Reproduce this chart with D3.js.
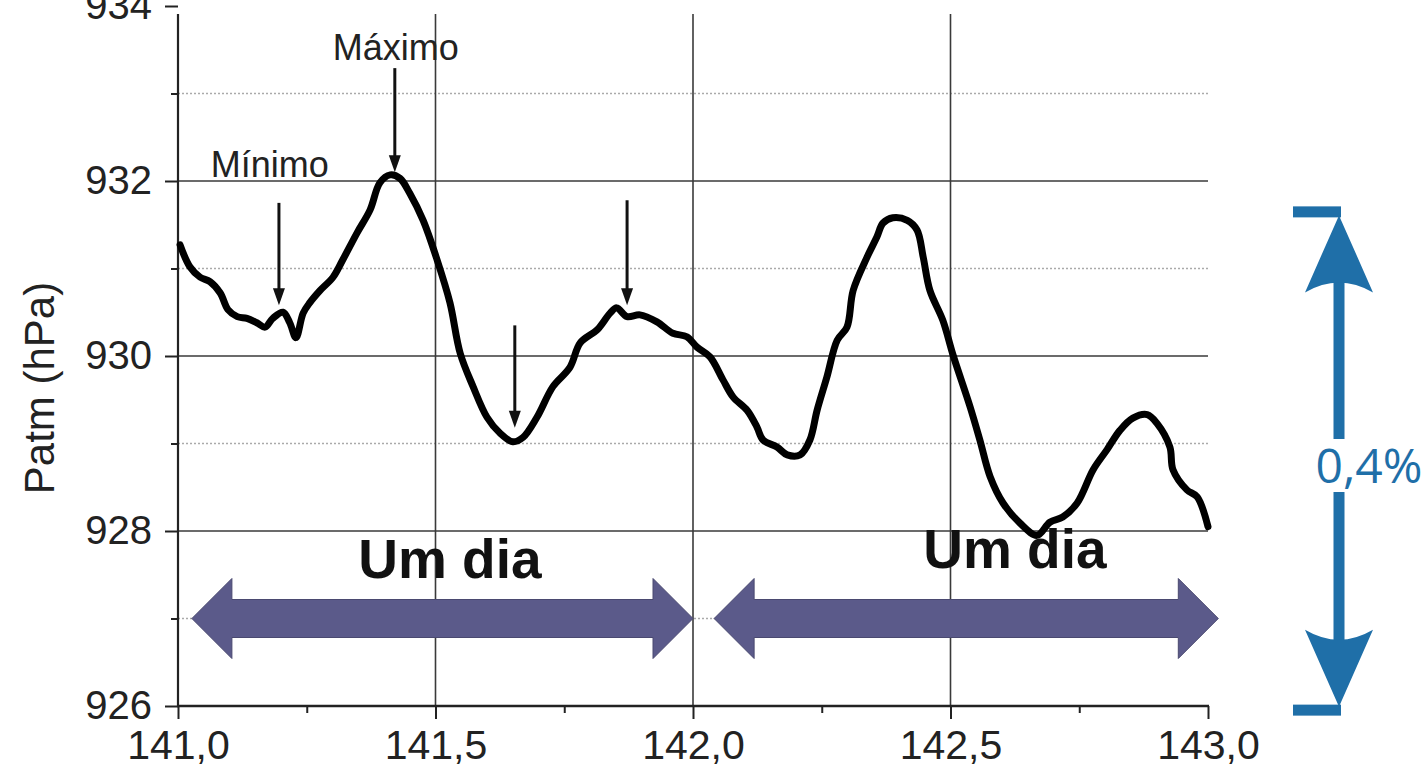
<!DOCTYPE html>
<html>
<head>
<meta charset="utf-8">
<script src="https://cdn.jsdelivr.net/npm/d3@7"></script>
<style>
  html, body { margin: 0; padding: 0; background: #fff; }
  svg { display: block; }
</style>
</head>
<body>
<svg id="chart" width="1425" height="767"></svg>
<script>
// ---- data ----
const timeDays = [141.004,141.023,141.043,141.062,141.082,141.097,141.115,141.134,141.153,141.169,141.184,141.204,141.217,141.229,141.243,141.256,141.276,141.301,141.320,141.348,141.373,141.392,141.412,141.431,141.450,141.476,141.503,141.528,141.548,141.573,141.600,141.625,141.650,141.670,141.697,141.728,141.761,141.781,141.814,141.839,141.852,141.872,141.897,141.930,141.961,141.988,142.008,142.033,142.058,142.078,142.105,142.124,142.136,142.163,142.183,142.208,142.227,142.241,142.260,142.280,142.299,142.311,142.338,142.357,142.369,142.388,142.416,142.435,142.447,142.460,142.485,142.505,142.538,142.557,142.577,142.602,142.635,142.668,142.693,142.718,142.746,142.777,142.804,142.829,142.854,142.882,142.901,142.926,142.932,142.959,142.979,143.000];
const patm = [931.27,931.02,930.90,930.85,930.72,930.53,930.45,930.43,930.38,930.33,930.43,930.50,930.38,930.21,930.49,930.61,930.75,930.90,931.10,931.41,931.67,931.98,932.07,932.03,931.86,931.55,931.10,930.61,930.03,929.65,929.30,929.12,929.02,929.07,929.30,929.65,929.87,930.15,930.30,930.49,930.55,930.45,930.47,930.39,930.26,930.22,930.10,929.99,929.73,929.53,929.38,929.19,929.04,928.96,928.87,928.87,929.04,929.38,929.76,930.18,930.33,930.75,931.13,931.36,931.52,931.58,931.55,931.44,931.13,930.75,930.41,930.01,929.42,929.04,928.62,928.32,928.09,927.95,928.10,928.16,928.32,928.70,928.93,929.15,929.29,929.33,929.23,928.96,928.70,928.47,928.39,928.05];

const yTicks = [926, 928, 930, 932, 934];
const yMinorTicks = [927, 929, 931, 933];
const xTicks = [141.0, 141.5, 142.0, 142.5, 143.0];
const xMinorTicks = [141.25, 141.75, 142.25, 142.75];
const xGridTicks = [141.5, 142.0, 142.5];

// annotation arrows (x, top value, bottom value)
const noteArrowX = [141.196, 141.421, 141.654, 141.872];
const noteArrowTop = [931.75, 933.29, 930.35, 931.78];
const noteArrowBottom = [930.58, 932.10, 929.18, 930.58];
const noteLabels = ["Mínimo", "Máximo"];
const noteLabelX = [141.178, 141.423];
const noteLabelY = [932.05, 933.38];

// "Um dia" spans
const dayStart = [141.027, 142.041];
const dayEnd = [142.0, 143.02];
const dayLevel = 927.0;
const dayLabelX = [141.528, 142.625];
const dayLabelY = [927.46, 927.58];

// amplitude bracket
const ampTop = 931.71;
const ampBottom = 925.89;
const ampLabel = "0,4%";

// ---- drawing ----
const svg = d3.select("#chart");
const x = d3.scaleLinear().domain([141, 143]).range([178, 1208]);
const y = d3.scaleLinear().domain([926, 934]).range([706, 6]);
const plotTop = 14;
const font = "'Liberation Sans', Arial, sans-serif";
const fmt = d => d3.format(".1f")(d).replace(".", ",");

const grid = svg.append("g");
grid.selectAll("line.hmin").data(yMinorTicks).join("line")
  .attr("x1", x(141)).attr("x2", x(143))
  .attr("y1", d => y(d)).attr("y2", d => y(d))
  .attr("stroke", "#aaaaaa").attr("stroke-width", 1.5).attr("stroke-dasharray", "2,2");
grid.selectAll("line.hmaj").data(yTicks.filter(d => d > 926 && d < 934)).join("line")
  .attr("x1", x(141)).attr("x2", x(143))
  .attr("y1", d => y(d)).attr("y2", d => y(d))
  .attr("stroke", "#3a3a3a").attr("stroke-width", 1.6);
grid.selectAll("line.v").data(xGridTicks).join("line")
  .attr("x1", d => x(d)).attr("x2", d => x(d))
  .attr("y1", plotTop).attr("y2", y(926))
  .attr("stroke", "#3a3a3a").attr("stroke-width", 1.6);

// left axis
const yAxis = d3.axisLeft(y).tickValues(yTicks).tickSize(13).tickPadding(13).tickFormat(d3.format("d"));
const gy = svg.append("g").attr("transform", `translate(${x(141)},0)`).call(yAxis);
gy.select(".domain").remove();
gy.selectAll(".tick line").attr("stroke", "#222").attr("stroke-width", 2);
gy.selectAll(".tick text").attr("font-family", font).attr("font-size", 40).attr("fill", "#222");
svg.append("g").attr("transform", `translate(${x(141)},0)`)
  .call(d3.axisLeft(y).tickValues(yMinorTicks).tickSize(7).tickFormat(""))
  .call(g => g.select(".domain").remove())
  .selectAll(".tick line").attr("stroke", "#222").attr("stroke-width", 2);
svg.append("line").attr("x1", x(141)).attr("x2", x(141)).attr("y1", plotTop).attr("y2", y(926))
  .attr("stroke", "#222").attr("stroke-width", 2.2);

// bottom axis
const xAxis = d3.axisBottom(x).tickValues(xTicks).tickSize(13).tickPadding(11).tickFormat(fmt);
const gx = svg.append("g").attr("transform", `translate(0,${y(926)})`).call(xAxis);
gx.select(".domain").remove();
gx.selectAll(".tick line").attr("stroke", "#222").attr("stroke-width", 2);
gx.selectAll(".tick text").attr("font-family", font).attr("font-size", 41).attr("fill", "#222");
svg.append("g").attr("transform", `translate(0,${y(926)})`)
  .call(d3.axisBottom(x).tickValues(xMinorTicks).tickSize(7).tickFormat(""))
  .call(g => g.select(".domain").remove())
  .selectAll(".tick line").attr("stroke", "#222").attr("stroke-width", 2);
svg.append("line").attr("x1", x(141) - 1).attr("x2", x(143) + 1).attr("y1", y(926)).attr("y2", y(926))
  .attr("stroke", "#222").attr("stroke-width", 2.6);

// y axis title
svg.append("text")
  .attr("transform", `translate(54,388) rotate(-90)`)
  .attr("text-anchor", "middle")
  .attr("font-family", font).attr("font-size", 42).attr("fill", "#222")
  .text("Patm (hPa)");

// day arrows
const dayColor = "#5b5a8a";
dayStart.forEach((s, i) => {
  const x0 = x(s), x1 = x(dayEnd[i]), yc = y(dayLevel);
  const hl = 40, sh = 19, hh = 40;
  const pts = [
    [x0, yc], [x0 + hl, yc - hh], [x0 + hl, yc - sh], [x1 - hl, yc - sh], [x1 - hl, yc - hh],
    [x1, yc], [x1 - hl, yc + hh], [x1 - hl, yc + sh], [x0 + hl, yc + sh], [x0 + hl, yc + hh]
  ];
  svg.append("path").attr("d", d3.line()(pts) + "Z")
    .attr("fill", dayColor).attr("stroke", "#4a4970").attr("stroke-width", 1);
  svg.append("text")
    .attr("x", x(dayLabelX[i])).attr("y", y(dayLabelY[i]))
    .attr("text-anchor", "middle")
    .attr("font-family", font).attr("font-weight", "bold").attr("font-size", 55).attr("fill", "#111")
    .text("Um dia");
});

// data line
svg.append("path")
  .datum(timeDays.map((t, i) => [t, patm[i]]))
  .attr("d", d3.line().x(d => x(d[0])).y(d => y(d[1])).curve(d3.curveCatmullRom.alpha(0.5)))
  .attr("fill", "none").attr("stroke", "#000").attr("stroke-width", 7)
  .attr("stroke-linejoin", "round").attr("stroke-linecap", "round");

// annotation arrows
noteArrowX.forEach((ax, i) => {
  const xa = x(ax), y0 = y(noteArrowTop[i]), y1 = y(noteArrowBottom[i]);
  svg.append("line").attr("x1", xa).attr("x2", xa).attr("y1", y0).attr("y2", y1 - 12)
    .attr("stroke", "#111").attr("stroke-width", 3);
  svg.append("path").attr("d", d3.line()([[xa - 6, y1 - 17], [xa + 6, y1 - 17], [xa, y1]]) + "Z")
    .attr("fill", "#111");
});
noteLabels.forEach((t, i) => {
  svg.append("text").attr("x", x(noteLabelX[i])).attr("y", y(noteLabelY[i]))
    .attr("text-anchor", "middle").attr("font-family", font).attr("font-size", 36).attr("fill", "#222")
    .text(t);
});

// amplitude bracket (blue)
const blue = "#1f6fa8";
const cx = 1339, yt = y(ampTop), yb = y(ampBottom);
svg.append("rect").attr("x", 1293).attr("y", yt).attr("width", cx + 2 - 1293).attr("height", 11).attr("fill", blue);
svg.append("rect").attr("x", 1293).attr("y", yb - 11).attr("width", cx + 2 - 1293).attr("height", 11).attr("fill", blue);
svg.append("rect").attr("x", cx - 5.5).attr("y", yt + 70).attr("width", 11).attr("height", 439 - (yt + 70)).attr("fill", blue);
svg.append("rect").attr("x", cx - 5.5).attr("y", 492).attr("width", 11).attr("height", (yb - 70) - 492).attr("fill", blue);
const headUp = `M${cx},${yt + 9} L${cx + 34},${yt + 86} Q${cx},${yt + 66} ${cx - 34},${yt + 86} Z`;
const headDown = `M${cx},${yb - 9} L${cx + 34},${yb - 86} Q${cx},${yb - 66} ${cx - 34},${yb - 86} Z`;
svg.append("path").attr("d", headUp).attr("fill", blue);
svg.append("path").attr("d", headDown).attr("fill", blue);
svg.append("text").attr("x", 1369).attr("y", 483).attr("text-anchor", "middle")
  .attr("font-family", "'Open Sans', sans-serif").attr("font-size", 48).attr("fill", blue)
  .text(ampLabel);
</script>
</body>
</html>
